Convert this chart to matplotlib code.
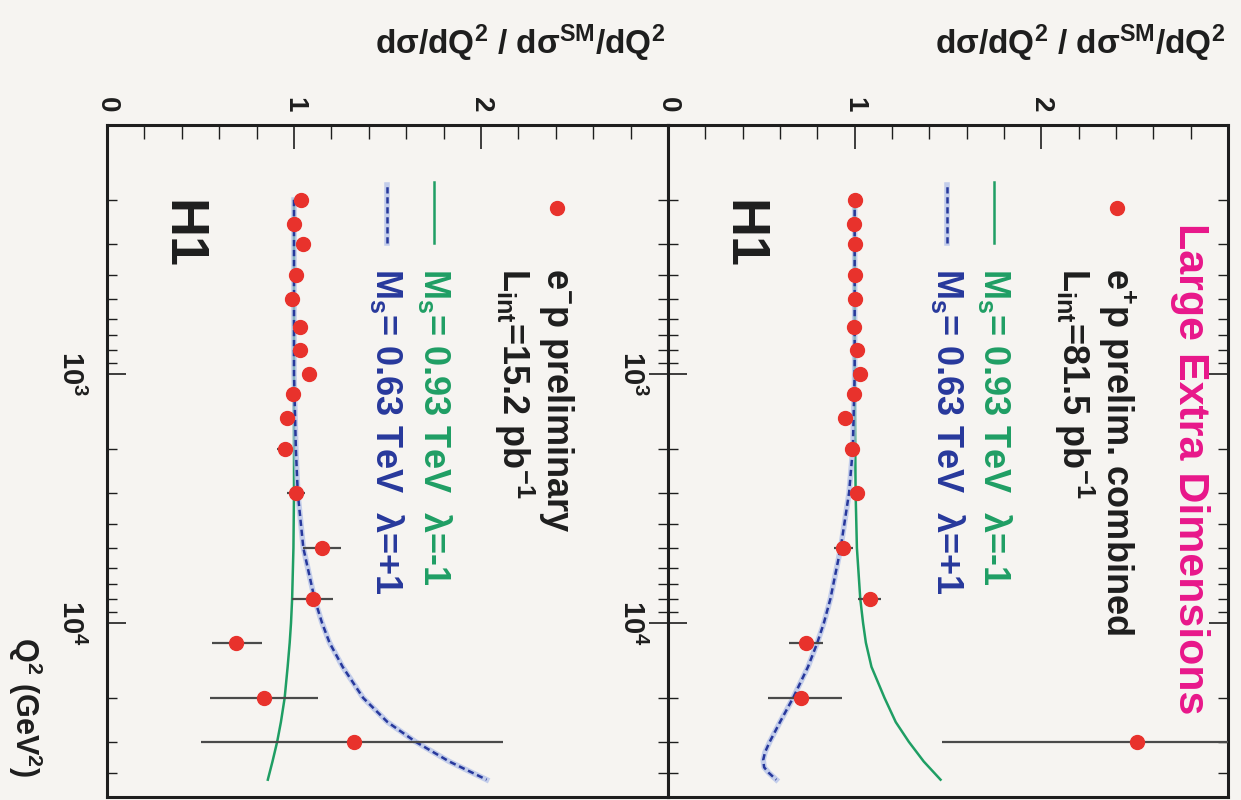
import numpy as np
import matplotlib
matplotlib.use("Agg")
import matplotlib.pyplot as plt
from matplotlib.ticker import FixedLocator, FixedFormatter, MultipleLocator, LogLocator, NullFormatter

plt.rcParams['font.family'] = ['Liberation Sans', 'DejaVu Sans']
plt.rcParams['font.weight'] = 'bold'
plt.rcParams['mathtext.fontset'] = 'custom'
plt.rcParams['mathtext.rm'] = 'Liberation Sans:bold'
plt.rcParams['mathtext.it'] = 'Liberation Sans:bold'
plt.rcParams['mathtext.bf'] = 'Liberation Sans:bold'
plt.rcParams['mathtext.sf'] = 'Liberation Sans:bold'
plt.rcParams['mathtext.default'] = 'bf'

# ---------------- data ----------------
q2_bins = [200, 250, 300, 400, 500, 650, 800, 1000, 1200, 1500, 2000, 3000,
           5000, 8000, 12000, 20000, 30000]

# e+p combined (upper panel in the original, right panel here)
eplus_ratio = [1.00, 0.995, 1.00, 1.00, 1.00, 0.995, 1.01, 1.03, 0.995, 0.946,
               0.985, 1.01, 0.94, 1.08, 0.74, 0.71, 2.51]
eplus_err_lo = [0.02, 0.02, 0.02, 0.02, 0.02, 0.02, 0.02, 0.02, 0.02, 0.025,
                0.03, 0.035, 0.05, 0.06, 0.09, 0.175, 1.04]
eplus_err_hi = [0.02, 0.02, 0.02, 0.02, 0.02, 0.02, 0.02, 0.02, 0.02, 0.025,
                0.03, 0.035, 0.05, 0.06, 0.09, 0.22, 1.20]

# e-p preliminary (lower panel in the original, left panel here)
eminus_ratio = [1.04, 1.00, 1.05, 1.01, 0.99, 1.03, 1.03, 1.08, 0.995, 0.96,
                0.95, 1.01, 1.15, 1.10, 0.69, 0.84, 1.32]
eminus_err_lo = [0.03, 0.03, 0.03, 0.03, 0.03, 0.03, 0.03, 0.03, 0.03, 0.035,
                 0.04, 0.05, 0.10, 0.11, 0.13, 0.29, 0.82]
eminus_err_hi = [0.03, 0.03, 0.03, 0.03, 0.03, 0.03, 0.03, 0.03, 0.03, 0.035,
                 0.04, 0.05, 0.10, 0.11, 0.14, 0.29, 0.80]

# theory curves
green_q2 = [200, 1000, 3000, 5000, 8000, 10000, 12000, 15000, 20000, 25000, 30000, 36000, 42600]
green_plus = [1.00, 1.00, 1.005, 1.012, 1.03, 1.045, 1.06, 1.09, 1.16, 1.22, 1.29, 1.37, 1.46]
green_minus = [1.00, 1.00, 1.00, 0.997, 0.99, 0.984, 0.977, 0.966, 0.95, 0.93, 0.91, 0.885, 0.86]

blue_plus_q2 = [200, 1000, 2000, 3000, 5000, 8000, 10000, 12000, 15000, 20000, 25000,
                30000, 33000, 35500, 38000, 40000, 42600]
blue_plus = [1.00, 1.00, 0.99, 0.97, 0.925, 0.87, 0.835, 0.80, 0.75, 0.67, 0.60,
             0.545, 0.52, 0.51, 0.515, 0.54, 0.58]

blue_minus_q2 = [200, 1000, 2000, 3000, 5000, 8000, 10000, 12000, 15000, 20000, 25000,
                 30000, 36000, 42600]
blue_minus = [1.00, 1.00, 1.01, 1.02, 1.05, 1.11, 1.15, 1.19, 1.26, 1.37, 1.50,
              1.65, 1.83, 2.03]

ratio_ticks = [0, 1, 2, 3]
ratio_ticklabels = ['0', '1', '2', '']
q2_ticks = [1e3, 1e4]
q2_ticklabels = [r'10$^{3}$', r'10$^{4}$']

# ---------------- style ----------------
BG = '#f6f4f1'
RED = '#e8322c'
GREEN = '#1f9e64'
BLUE = '#27389c'
MAGENTA = '#e8178a'
INK = '#1e1e1e'

W, H = 1241, 800
fig = plt.figure(figsize=(W / 100, H / 100), dpi=100, facecolor=BG)


def px_axes(x0, x1, ytop, ybot):
    return fig.add_axes([x0 / W, 1 - ybot / H, (x1 - x0) / W, (ybot - ytop) / H])


ax_l = px_axes(107, 668, 125, 797)
ax_r = px_axes(668, 1228, 125, 797)


def setup(ax):
    ax.set_facecolor(BG)
    ax.set_yscale('log')
    ax.set_ylim(5e4, 100)
    ax.set_xlim(0, 3)
    for s in ax.spines.values():
        s.set_linewidth(2.2)
        s.set_color(INK)
    ax.xaxis.tick_top()
    ax.xaxis.set_major_locator(FixedLocator(ratio_ticks))
    ax.xaxis.set_major_formatter(FixedFormatter(ratio_ticklabels))
    ax.xaxis.set_minor_locator(MultipleLocator(0.2))
    ax.tick_params(axis='x', which='major', direction='in', length=17, width=1.2,
                   labelsize=20, pad=9, labelrotation=-90, colors=INK)
    ax.tick_params(axis='x', which='minor', direction='in', length=10, width=1.0, colors=INK)
    ax.yaxis.set_major_locator(FixedLocator(q2_ticks))
    ax.yaxis.set_major_formatter(FixedFormatter(q2_ticklabels))
    ax.yaxis.set_minor_locator(LogLocator(base=10, subs=np.arange(2, 10)))
    ax.yaxis.set_minor_formatter(NullFormatter())
    ax.tick_params(axis='y', which='both', left=True, right=True, direction='in', colors=INK)
    ax.tick_params(axis='y', which='major', length=14, width=1.2, labelsize=21,
                   pad=16, labelrotation=-90)
    ax.tick_params(axis='y', which='minor', length=7, width=1.0)
    for lab in ax.get_yticklabels():
        lab.set_va('center')


setup(ax_l)
setup(ax_r)


def draw(ax, ratio, lo, hi, gq, g, bq, b):
    ax.plot(g, gq, color=GREEN, lw=1.8, zorder=3)
    ax.plot(b, bq, color='#aebde8', lw=4.0, alpha=0.7, zorder=3)
    ax.plot(b, bq, color=BLUE, lw=1.8, ls=(0, (2.5, 1.5)), zorder=4)
    ax.errorbar(ratio, q2_bins, xerr=[lo, hi], fmt='o', color=RED, ms=10,
                mec=RED, ecolor='#4a4a4a', elinewidth=1.6, capsize=0, zorder=5)


draw(ax_r, eplus_ratio, eplus_err_lo, eplus_err_hi, green_q2, green_plus,
     blue_plus_q2, blue_plus)
draw(ax_l, eminus_ratio, eminus_err_lo, eminus_err_hi, green_q2, green_minus,
     blue_minus_q2, blue_minus)


def legend(ax, label1, label2, title=None):
    tr = ax.transAxes
    ax.plot([0.802], [0.8765], 'o', color=RED, ms=10, transform=tr, clip_on=False)
    ax.plot([0.582, 0.582], [0.824, 0.915], color=GREEN, lw=1.8, transform=tr)
    ax.plot([0.499, 0.499], [0.824, 0.911], color='#aebde8', lw=4, alpha=0.7, transform=tr)
    ax.plot([0.499, 0.499], [0.824, 0.911], color=BLUE, lw=1.8, ls=(0, (2.5, 1.5)), transform=tr)
    ax.text(0.802, 0.787, label1, transform=tr, rotation=-90, ha='center', va='top',
            fontsize=26, color=INK)
    ax.text(0.725, 0.787, label2, transform=tr, rotation=-90, ha='center', va='top',
            fontsize=26, color=INK)
    ax.text(0.584, 0.787, r'M$_{s}$= 0.93 TeV  λ=-1', transform=tr, rotation=-90,
            ha='center', va='top', fontsize=26, color=GREEN)
    ax.text(0.500, 0.787, r'M$_{s}$= 0.63 TeV  λ=+1', transform=tr, rotation=-90,
            ha='center', va='top', fontsize=26, color=BLUE)
    ax.text(0.132, 0.888, 'H1', transform=tr, rotation=-90, ha='center', va='top',
            fontsize=39, fontweight='heavy', color=INK)
    if title:
        ax.text(0.932, 0.854, title, transform=tr, rotation=-90, ha='center', va='top',
                fontsize=31, color=MAGENTA)


legend(ax_r, r'e$^{+}$p prelim. combined', r'L$_{int}$=81.5 pb$^{-1}$',
       title='Large Extra Dimensions')
legend(ax_l, r'e$^{-}$p preliminary', r'L$_{int}$=15.2 pb$^{-1}$')

ylabel = r'dσ/dQ$^{2}$ / dσ$^{SM}$/dQ$^{2}$'
fig.text(665 / W, 1 - 43 / H, ylabel, ha='right', va='center', fontsize=24, color=INK)
fig.text(1225 / W, 1 - 43 / H, ylabel, ha='right', va='center', fontsize=24, color=INK)
fig.text(25 / W, 1 - 637 / H, r'Q$^{2}$ (GeV$^{2}$)', rotation=-90, ha='center', va='top',
         fontsize=22, color=INK)

fig.savefig('out.png', dpi=100, facecolor=BG)
